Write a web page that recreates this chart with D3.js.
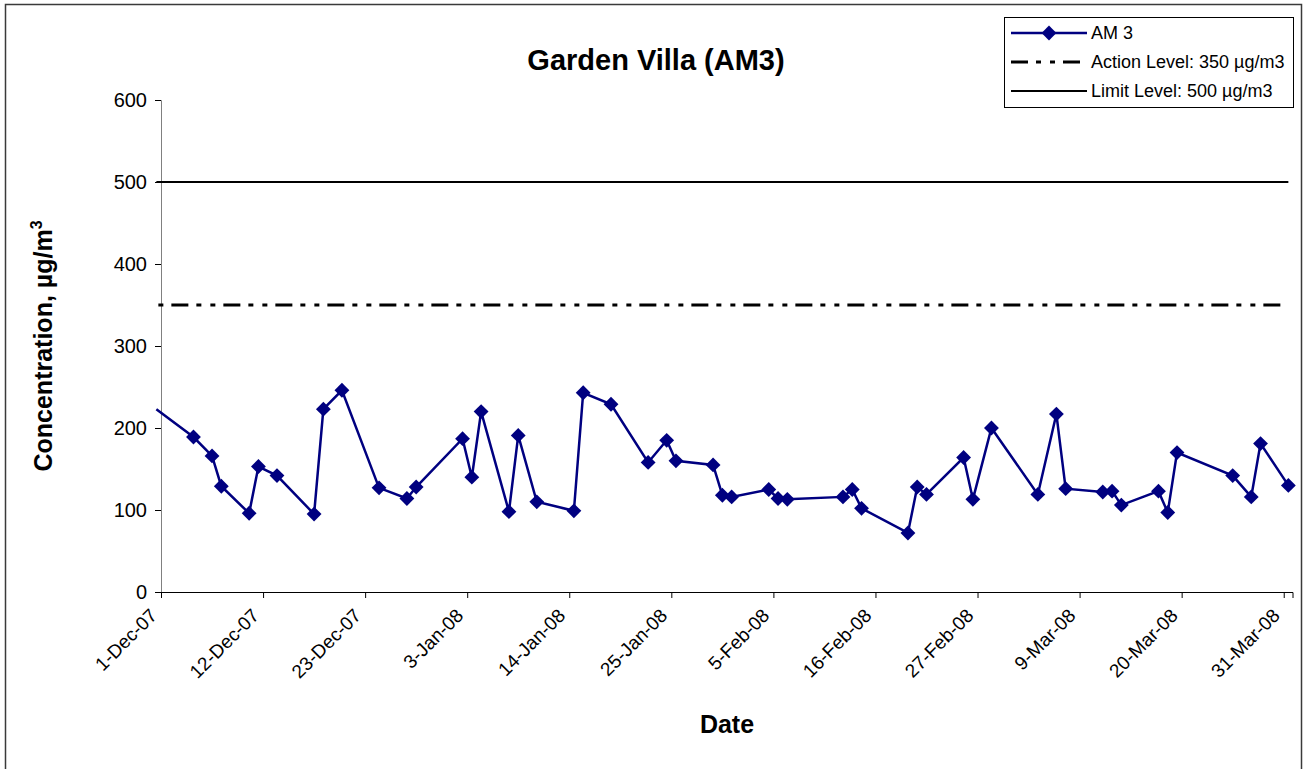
<!DOCTYPE html>
<html>
<head>
<meta charset="utf-8">
<script src="https://cdn.jsdelivr.net/npm/d3@7"></script>
<style>
  body { margin: 0; background: #fff; }
  text { font-family: "Liberation Sans", Arial, sans-serif; }
</style>
</head>
<body>
<svg id="chart" width="1305" height="769"></svg>
<script>
// sampling dates and measured concentrations (ug/m3) for AM 3
var sampleDates = [
  "2007-11-30", "2007-12-04", "2007-12-06", "2007-12-07", "2007-12-10", "2007-12-11",
  "2007-12-13", "2007-12-17", "2007-12-18", "2007-12-20", "2007-12-24", "2007-12-27",
  "2007-12-28", "2008-01-02", "2008-01-03", "2008-01-04", "2008-01-07", "2008-01-08",
  "2008-01-10", "2008-01-14", "2008-01-15", "2008-01-18", "2008-01-22", "2008-01-24",
  "2008-01-25", "2008-01-29", "2008-01-30", "2008-01-31", "2008-02-04", "2008-02-05",
  "2008-02-06", "2008-02-12", "2008-02-13", "2008-02-14", "2008-02-19", "2008-02-20",
  "2008-02-21", "2008-02-25", "2008-02-26", "2008-02-28", "2008-03-04", "2008-03-06",
  "2008-03-07", "2008-03-11", "2008-03-12", "2008-03-13", "2008-03-17", "2008-03-18",
  "2008-03-19", "2008-03-25", "2008-03-27", "2008-03-28", "2008-03-31"
];
var am3Values = [
  223, 189, 166, 129, 96, 153,
  142, 95, 223, 246, 127, 114,
  128, 187, 140, 220, 98, 191,
  110, 99, 243, 229, 158, 185,
  160, 155, 118, 116, 125, 114,
  113, 116, 125, 102, 72, 128,
  119, 164, 113, 200, 119, 217,
  126, 122, 123, 106, 123, 97,
  170, 142, 116, 181, 130
];

// reference levels, drawn across the same date span as the samples
var actionLevel = 350;
var limitLevel = 500;
var levelDates = ["2007-11-30", "2008-03-31"];

// axis ticks
var xTickLabels = ["1-Dec-07", "12-Dec-07", "23-Dec-07", "3-Jan-08", "14-Jan-08", "25-Jan-08",
  "5-Feb-08", "16-Feb-08", "27-Feb-08", "9-Mar-08", "20-Mar-08", "31-Mar-08"];
var yTicks = [0, 100, 200, 300, 400, 500, 600];
var xDomain = ["2007-12-01", "2008-04-01"];

var parseIso = d3.timeParse("%Y-%m-%d");
var parseLabel = d3.timeParse("%d-%b-%y");

var am3 = sampleDates.map(function (d, i) {
  return { date: parseIso(d), value: am3Values[i] };
});

var svg = d3.select("#chart");

// chart border
svg.append("rect")
  .attr("x", 5.5).attr("y", 4.5)
  .attr("width", 1296).attr("height", 800)
  .attr("fill", "#fff")
  .attr("stroke", "#3a3a3a")
  .attr("stroke-width", 1.5);

var plotLeft = 161, plotRight = 1293, plotTop = 100, plotBottom = 592;

var x = d3.scaleTime()
  .domain(xDomain.map(parseIso))
  .range([plotLeft, plotRight]);
var y = d3.scaleLinear().domain([0, 600]).range([plotBottom, plotTop]);

// points sit in the middle of their day, like an Excel date axis
function xMid(d) {
  return x(d3.timeHour.offset(d, 12));
}

// y axis
var yAxis = svg.append("g")
  .attr("transform", "translate(" + plotLeft + ",0)")
  .call(d3.axisLeft(y).tickValues(yTicks).tickSize(6).tickPadding(8));
yAxis.select(".domain").attr("stroke", "#808080");
yAxis.selectAll(".tick line").attr("stroke", "#000");
yAxis.selectAll("text")
  .attr("font-size", "20px")
  .attr("fill", "#000")
  .attr("font-family", "Liberation Sans, Arial, sans-serif");

// x axis
var xAxis = svg.append("g")
  .attr("transform", "translate(0," + plotBottom + ")")
  .call(d3.axisBottom(x)
    .tickValues(xTickLabels.map(parseLabel))
    .tickSize(6)
    .tickFormat(function (d, i) { return xTickLabels[i]; }));
xAxis.select(".domain").attr("stroke", "#000")
  .attr("d", "M" + plotLeft + ",0.5H" + plotRight + "V6");
xAxis.selectAll("text")
  .attr("font-size", "19px")
  .attr("fill", "#000")
  .attr("font-family", "Liberation Sans, Arial, sans-serif")
  .attr("text-anchor", "end")
  .attr("x", 0)
  .attr("y", 0)
  .attr("dy", "0.35em")
  .attr("transform", "translate(-8,20) rotate(-45)");

// reference lines
var levelLine = function (val) {
  return levelDates.map(function (d) { return [xMid(parseIso(d)), y(val)]; });
};
svg.append("path")
  .attr("d", d3.line()(levelLine(limitLevel)))
  .attr("stroke", "#000")
  .attr("stroke-width", 2)
  .attr("fill", "none");
svg.append("path")
  .attr("d", d3.line()(levelLine(actionLevel)))
  .attr("stroke", "#000")
  .attr("stroke-width", 3)
  .attr("stroke-dasharray", "17,8,5,9,5,8")
  .attr("stroke-dashoffset", 37)
  .attr("fill", "none");

// AM 3 series
var line = d3.line()
  .x(function (d) { return xMid(d.date); })
  .y(function (d) { return y(d.value); });

svg.append("path")
  .datum(am3)
  .attr("d", line)
  .attr("stroke", "#000080")
  .attr("stroke-width", 2.5)
  .attr("fill", "none");

var diamond = d3.symbol().type(d3.symbolSquare).size(110);
svg.selectAll(".marker")
  .data(am3.filter(function (d) { return d.date >= x.domain()[0]; }))
  .enter()
  .append("path")
  .attr("class", "marker")
  .attr("d", diamond)
  .attr("transform", function (d) {
    return "translate(" + xMid(d.date) + "," + y(d.value) + ") rotate(45)";
  })
  .attr("fill", "#000080");

// titles
svg.append("text")
  .attr("x", 656).attr("y", 70)
  .attr("text-anchor", "middle")
  .attr("font-size", "29px")
  .attr("font-weight", "bold")
  .text("Garden Villa (AM3)");

svg.append("text")
  .attr("x", 727).attr("y", 733)
  .attr("text-anchor", "middle")
  .attr("font-size", "25px")
  .attr("font-weight", "bold")
  .text("Date");

var yTitle = svg.append("text")
  .attr("transform", "translate(52,346) rotate(-90)")
  .attr("text-anchor", "middle")
  .attr("font-size", "25px")
  .attr("font-weight", "bold");
yTitle.append("tspan").text("Concentration, µg/m");
yTitle.append("tspan")
  .attr("font-size", "16px")
  .attr("dy", "-10")
  .text("3");

// legend
var legend = svg.append("g");
legend.append("rect")
  .attr("x", 1004.5).attr("y", 17.5)
  .attr("width", 289).attr("height", 90)
  .attr("fill", "#fff")
  .attr("stroke", "#000");

var legendItems = [
  { label: "AM 3", type: "series" },
  { label: "Action Level: 350 µg/m3", type: "action" },
  { label: "Limit Level: 500 µg/m3", type: "limit" }
];
legendItems.forEach(function (item, i) {
  var ly = 33 + i * 29;
  var p = legend.append("path")
    .attr("d", "M1011," + ly + "H1087")
    .attr("fill", "none");
  if (item.type === "series") {
    p.attr("stroke", "#000080").attr("stroke-width", 2.5);
    legend.append("path")
      .attr("d", diamond)
      .attr("transform", "translate(1049," + ly + ") rotate(45)")
      .attr("fill", "#000080");
  } else if (item.type === "action") {
    p.attr("stroke", "#000").attr("stroke-width", 3)
      .attr("stroke-dasharray", "17,8,5,9,5,8");
  } else {
    p.attr("stroke", "#000").attr("stroke-width", 2);
  }
  legend.append("text")
    .attr("x", 1091).attr("y", ly + 6)
    .attr("font-size", "18px")
    .text(item.label);
});
</script>
</body>
</html>
